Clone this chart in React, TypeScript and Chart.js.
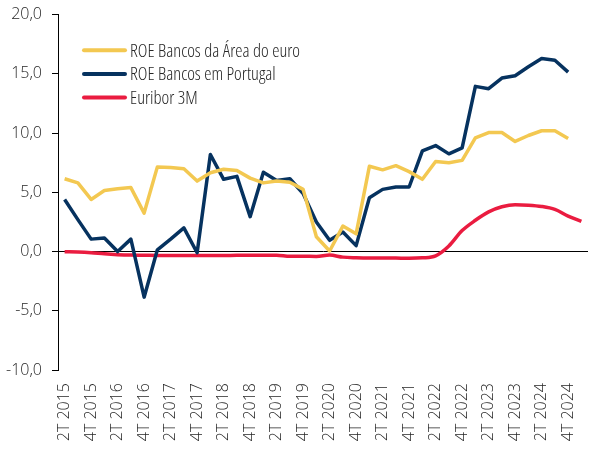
import { useEffect, useRef } from 'react';
import { Chart, registerables } from 'chart.js';

Chart.register(...registerables);

const quarters: string[] = [
  '2T 2015', '3T 2015', '4T 2015',
  '1T 2016', '2T 2016', '3T 2016', '4T 2016',
  '1T 2017', '2T 2017', '3T 2017', '4T 2017',
  '1T 2018', '2T 2018', '3T 2018', '4T 2018',
  '1T 2019', '2T 2019', '3T 2019', '4T 2019',
  '1T 2020', '2T 2020', '3T 2020', '4T 2020',
  '1T 2021', '2T 2021', '3T 2021', '4T 2021',
  '1T 2022', '2T 2022', '3T 2022', '4T 2022',
  '1T 2023', '2T 2023', '3T 2023', '4T 2023',
  '1T 2024', '2T 2024', '3T 2024', '4T 2024',
  '1T 2025',
];

const roeEuroArea: (number | null)[] = [
  6.15, 5.8, 4.4,
  5.15, 5.3, 5.4, 3.25,
  7.15, 7.1, 7.0, 5.95,
  6.65, 6.95, 6.85, 6.2,
  5.8, 5.95, 5.85, 5.25,
  1.25, 0.05, 2.15, 1.5,
  7.2, 6.9, 7.25, 6.75,
  6.1, 7.6, 7.5, 7.7,
  9.6, 10.05, 10.05, 9.3,
  9.8, 10.2, 10.2, 9.55,
  null,
];

const roePortugal: (number | null)[] = [
  4.4, 2.7, 1.05,
  1.15, 0.0, 1.05, -3.85,
  0.15, 1.05, 2.0, -0.1,
  8.2, 6.1, 6.35, 2.95,
  6.7, 6.0, 6.15, 4.9,
  2.5, 0.95, 1.65, 0.5,
  4.55, 5.25, 5.45, 5.45,
  8.5, 8.95, 8.25, 8.75,
  13.95, 13.75, 14.65, 14.85,
  15.6, 16.3, 16.15, 15.15,
  null,
];

const euribor3M: number[] = [
  -0.01, -0.03, -0.09,
  -0.19, -0.26, -0.30, -0.31,
  -0.33, -0.33, -0.33, -0.33,
  -0.33, -0.33, -0.32, -0.32,
  -0.31, -0.31, -0.40, -0.40,
  -0.41, -0.30, -0.47, -0.52,
  -0.54, -0.54, -0.55, -0.57,
  -0.53, -0.36, 0.47, 1.77,
  2.64, 3.35, 3.78, 3.96,
  3.92, 3.81, 3.56, 3.0,
  2.54,
];

const seriesNames = ['ROE Bancos da Área do euro', 'ROE Bancos em Portugal', 'Euribor 3M'];
const seriesColors = ['#F3C851', '#06325F', '#EA1C40'];

const yMin = -10;
const yMax = 20;
const yStep = 5;

const textColor = '#262626';
const tickFont = { family: '"Open Sans", sans-serif', size: 16, weight: 300 as any };

const insideLegend = {
  id: 'insideLegend',
  afterDatasetsDraw(chart: any) {
    const { ctx, chartArea } = chart;
    ctx.save();
    ctx.font = '300 19px "Open Sans", sans-serif';
    try { (ctx as any).fontStretch = 'condensed'; } catch (e) { /* ignore */ }
    const widest = ctx.measureText(seriesNames[0]).width;
    const sx = widest > 0 ? Math.min(1, 170 / widest) : 1;
    chart.data.datasets.forEach((ds: any, i: number) => {
      const x = chartArea.left + 25;
      const y = chartArea.top + 35.5 + i * 23.7;
      ctx.strokeStyle = ds.borderColor;
      ctx.lineWidth = 4;
      ctx.lineCap = 'round';
      ctx.beginPath();
      ctx.moveTo(x + 1, y);
      ctx.lineTo(x + 42, y);
      ctx.stroke();
      ctx.save();
      ctx.translate(x + 47, y + 1);
      ctx.scale(sx, 1);
      ctx.fillStyle = textColor;
      ctx.textBaseline = 'middle';
      ctx.textAlign = 'left';
      ctx.fillText(ds.label, 0, 0);
      ctx.restore();
    });
    ctx.restore();
  },
};

export default function App() {
  const canvasRef = useRef<HTMLCanvasElement | null>(null);

  useEffect(() => {
    if (!canvasRef.current) return;
    const chart = new Chart(canvasRef.current, {
      type: 'line',
      data: {
        labels: quarters,
        datasets: [
          {
            label: seriesNames[0],
            data: roeEuroArea,
            borderColor: seriesColors[0],
            backgroundColor: seriesColors[0],
            borderWidth: 3.5,
            pointRadius: 0,
            tension: 0,
            borderJoinStyle: 'round',
          },
          {
            label: seriesNames[1],
            data: roePortugal,
            borderColor: seriesColors[1],
            backgroundColor: seriesColors[1],
            borderWidth: 3.5,
            pointRadius: 0,
            tension: 0,
            borderJoinStyle: 'round',
          },
          {
            label: seriesNames[2],
            data: euribor3M,
            borderColor: seriesColors[2],
            backgroundColor: seriesColors[2],
            borderWidth: 3.5,
            pointRadius: 0,
            cubicInterpolationMode: 'monotone',
            borderJoinStyle: 'round',
          },
        ],
      },
      options: {
        animation: false,
        responsive: true,
        maintainAspectRatio: false,
        layout: { padding: { top: 14.7, right: 13, left: 0, bottom: 0 } },
        plugins: {
          legend: { display: false },
          tooltip: { enabled: false },
        },
        scales: {
          x: {
            type: 'category',
            offset: true,
            grid: { display: false, drawTicks: false },
            border: { display: false },
            ticks: {
              autoSkip: false,
              maxRotation: 90,
              minRotation: 90,
              padding: 13,
              color: textColor,
              font: tickFont,
              callback: (_v: any, i: number) => (i % 2 === 0 ? quarters[i] : ''),
            },
            afterFit: (scale: any) => {
              scale.height = 84;
              scale.paddingLeft = 0;
              scale.paddingRight = 0;
            },
          },
          y: {
            min: yMin,
            max: yMax,
            border: { display: true, color: '#000', width: 1 },
            grid: {
              drawTicks: true,
              tickLength: 6,
              tickColor: '#000',
              color: (c: any) => (c.tick && c.tick.value === 0 ? '#000' : 'rgba(0,0,0,0)'),
              lineWidth: 1,
            },
            ticks: {
              stepSize: yStep,
              padding: 10,
              color: textColor,
              font: tickFont,
              callback: (v: any) => Number(v).toFixed(1).replace('.', ','),
            },
            afterFit: (scale: any) => {
              scale.width = 58;
              scale.paddingTop = 0;
              scale.paddingBottom = 0;
            },
          },
        },
      },
      plugins: [insideLegend],
    });
    return () => chart.destroy();
  }, []);

  return (
    <div style={{ position: 'absolute', left: 0, top: 0, width: 601, height: 454, background: '#fff' }}>
      <canvas ref={canvasRef} />
    </div>
  );
}
